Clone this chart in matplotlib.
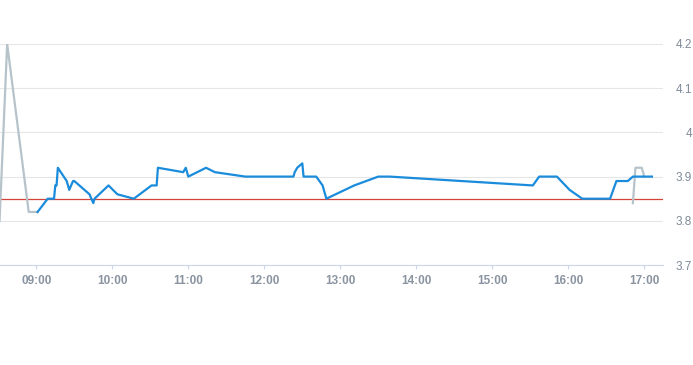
import pandas as pd
import matplotlib.pyplot as plt
from matplotlib.ticker import FuncFormatter

# price series (time of day, value)
blue_times = ["09:01", "09:09", "09:14", "09:15", "09:16", "09:17", "09:24", "09:26",
              "09:29", "09:30", "09:42", "09:45", "09:46", "09:57", "10:04", "10:17",
              "10:31", "10:35", "10:36", "10:56", "10:58", "11:00", "11:14", "11:21",
              "11:45", "12:23", "12:24", "12:26", "12:30", "12:31", "12:41", "12:46",
              "12:49", "13:11", "13:30", "13:39", "15:32", "15:37", "15:51", "16:01",
              "16:11", "16:33", "16:38", "16:47", "16:51", "17:06"]
blue_values = [3.82, 3.85, 3.85, 3.88, 3.88, 3.92, 3.89, 3.87,
               3.89, 3.89, 3.86, 3.84, 3.85, 3.88, 3.86, 3.85,
               3.88, 3.88, 3.92, 3.91, 3.92, 3.90, 3.92, 3.91,
               3.90, 3.90, 3.91, 3.92, 3.93, 3.90, 3.90, 3.88,
               3.85, 3.88, 3.90, 3.90, 3.88, 3.90, 3.90, 3.87,
               3.85, 3.85, 3.89, 3.89, 3.90, 3.90]

gray_start_times = ["08:31", "08:37", "08:54", "09:01"]
gray_start_values = [3.80, 4.20, 3.82, 3.82]
gray_end_times = ["16:51", "16:53", "16:58", "17:00"]
gray_end_values = [3.84, 3.92, 3.92, 3.90]

reference_price = 3.85
x_ticks = ["09:00", "10:00", "11:00", "12:00", "13:00", "14:00", "15:00", "16:00", "17:00"]
y_ticks = [3.7, 3.8, 3.9, 4.0, 4.1, 4.2]


def to_hours(times):
    t = pd.to_datetime(pd.Series(times), format="%H:%M")
    return (t.dt.hour + t.dt.minute / 60).values


label_color = "#8a94a0"
plt.rcParams['font.family'] = ['Liberation Sans Narrow', 'Liberation Sans', 'DejaVu Sans']

fig = plt.figure(figsize=(6.93, 3.65), dpi=100)
ax = fig.add_axes([0, 1 - 265 / 365, 663 / 693, 221 / 365])

ax.axhline(reference_price, color="#d2443a", lw=0.9, zorder=2)
ax.plot(to_hours(gray_start_times), gray_start_values, color="#b7c3cb", lw=1.6, zorder=3)
ax.plot(to_hours(blue_times), blue_values, color="#1a8cdb", lw=1.6, zorder=4)
ax.plot(to_hours(gray_end_times), gray_end_values, color="#b7c3cb", lw=1.6, zorder=3)

ax.set_xlim(9 - 36.3 / 76, 9 + (663 - 36.3) / 76)
ax.set_ylim(3.7, 4.2)

ax.set_xticks(to_hours(x_ticks))
ax.set_xticklabels(x_ticks)
ax.set_yticks(y_ticks)
ax.yaxis.set_major_formatter(FuncFormatter(lambda v, p: f"{v:g}"))
ax.yaxis.tick_right()

ax.grid(axis="y", color="#e6e6e6", lw=0.8)
ax.set_axisbelow(True)
for s in ["top", "left", "right"]:
    ax.spines[s].set_visible(False)
ax.spines["bottom"].set_color("#ccd6eb")
ax.spines["bottom"].set_linewidth(0.8)

ax.tick_params(axis="x", length=3, color="#ccd6eb", pad=4, labelsize=8.5,
               labelcolor=label_color)
ax.tick_params(axis="y", length=0, pad=21, labelsize=8.5, labelcolor="#7f8a96")
for lab in ax.get_yticklabels():
    lab.set_horizontalalignment("right")
for lab in ax.get_xticklabels():
    lab.set_fontweight("bold")

plt.savefig("out.png", dpi=100)
